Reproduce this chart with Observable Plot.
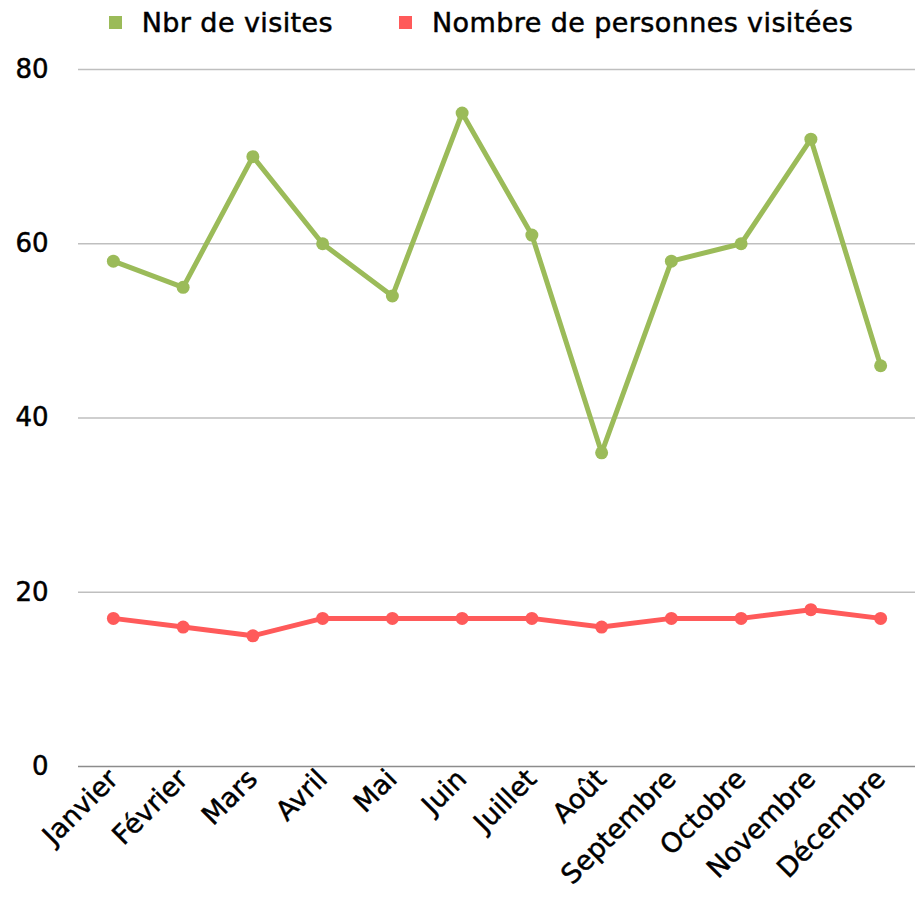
<!DOCTYPE html>
<html>
<head>
<meta charset="utf-8">
<script src="https://cdn.jsdelivr.net/npm/d3@7"></script>
<script src="https://cdn.jsdelivr.net/npm/@observablehq/plot@0.6"></script>
<style>
  body { margin: 0; background: #fff; font-family: "DejaVu Sans", sans-serif; }
  #legend { height: 45px; display: flex; justify-content: center; align-items: center; gap: 66px; font-size: 27px; letter-spacing: 0.4px; color: #000; padding-left: 40px; box-sizing: border-box; -webkit-text-stroke: 0.5px #000; }
  .item { display: flex; align-items: center; gap: 20px; }
  .sw { width: 13px; height: 13px; display: inline-block; }
  svg text { stroke: #000; stroke-width: 0.5px; }
</style>
</head>
<body>
<div id="legend"></div>
<div id="chart"></div>
<script>
const months = ["Janvier","Février","Mars","Avril","Mai","Juin","Juillet","Août","Septembre","Octobre","Novembre","Décembre"];
const visites = [58, 55, 70, 60, 54, 75, 61, 36, 58, 60, 72, 46];
const personnes = [17, 16, 15, 17, 17, 17, 17, 16, 17, 17, 18, 17];
const seriesNames = ["Nbr de visites", "Nombre de personnes visitées"];
const seriesColors = ["#9BBB59", "#FF5A5A"];
const yTicks = [0, 20, 40, 60, 80];

const data = [];
months.forEach((m, i) => {
  data.push({month: m, value: visites[i], series: seriesNames[0]});
  data.push({month: m, value: personnes[i], series: seriesNames[1]});
});

const legend = document.getElementById("legend");
seriesNames.forEach((n, i) => {
  const it = document.createElement("div");
  it.className = "item";
  it.innerHTML = `<span class="sw" style="background:${seriesColors[i]}"></span><span>${n}</span>`;
  legend.appendChild(it);
});

const chart = Plot.plot({
  width: 922,
  height: 865,
  marginTop: 24,
  marginBottom: 144,
  marginLeft: 78,
  marginRight: 7,
  style: {fontFamily: "'DejaVu Sans', sans-serif", fontSize: "25px", color: "#000", background: "#fff"},
  x: {type: "point", domain: months, padding: 0.5, round: false, label: null},
  y: {domain: [0, 80], ticks: yTicks, label: null},
  color: {domain: seriesNames, range: seriesColors},
  marks: [
    Plot.gridY(yTicks.filter(t => t > 0), {stroke: "#bfbfbf", strokeOpacity: 1, strokeWidth: 1.3}),
    Plot.ruleY([0], {stroke: "#8c8c8c", strokeWidth: 1.5}),
    Plot.axisY({ticks: yTicks, tickSize: 0, tickPadding: 30, textAnchor: "end", fontSize: 26}),
    Plot.axisX({tickSize: 0, tickRotate: -45, tickPadding: 8, fontSize: 27, style: {letterSpacing: "1.3px"}}),
    Plot.line(data, {x: "month", y: "value", z: "series", stroke: "series", strokeWidth: 5, strokeLinejoin: "round", strokeLinecap: "round"}),
    Plot.dot(data, {x: "month", y: "value", fill: "series", r: 6.5})
  ]
});
document.getElementById("chart").appendChild(chart);
</script>
</body>
</html>
